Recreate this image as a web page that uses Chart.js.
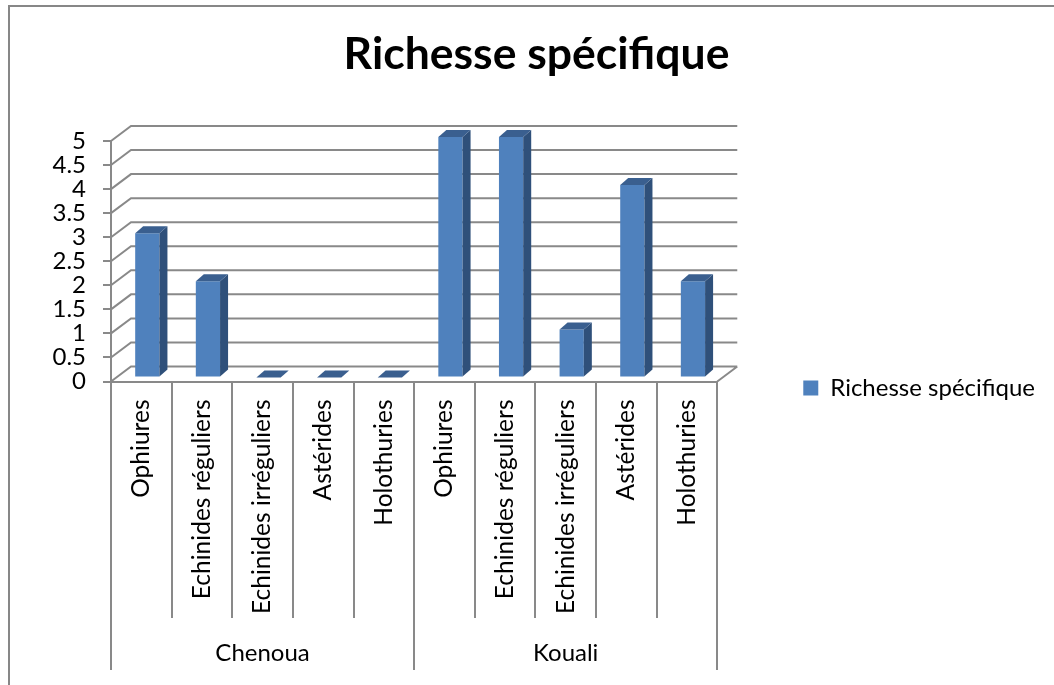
<!DOCTYPE html>
<html>
<head>
<meta charset="utf-8">
<script src="https://cdn.jsdelivr.net/npm/chart.js@4.4.0/dist/chart.umd.min.js"></script>
<style>
  html, body { margin: 0; padding: 0; background: #fff; overflow: hidden; }
  /* the chart frame runs past the bottom and right of the window */
  #wrap { width: 1062px; height: 776px; }
</style>
</head>
<body>
<div id="wrap"><canvas id="richesseChart"></canvas></div>
<script>
// Number of taxa per group, for each site
const sites = ['Chenoua', 'Kouali'];
const taxa = ['Ophiures', 'Echinides réguliers', 'Echinides irréguliers', 'Astérides', 'Holothuries'];
const chenouaValues = [3, 2, 0, 0, 0];
const koualiValues = [5, 5, 1, 4, 2];
const yMax = 5;
const yStep = 0.5;

const labels = sites.flatMap(() => taxa);
const values = chenouaValues.concat(koualiValues);

const FONT = 'Lato';
const LINE = '#898989';
const FRONT = '#4f81bd';
const SIDE = '#2f507a';
const TOP = '#3a5f8f';
const WALL = { x: 20, y: -15 };      // depth of the back wall
const COLUMN = { x: 8, y: -7 };      // thickness of each column
const SHIFT = { x: 6, y: -4 };       // columns sit half way into the box

// Draws the 3D box (back wall, side wall), column faces and the site groups
const box3d = {
  id: 'box3d',
  beforeDraw(chart) {
    const ctx = chart.ctx;
    ctx.save();
    ctx.strokeStyle = '#878787';
    ctx.lineWidth = 2;
    ctx.strokeRect(9, 6, chart.width - 12, chart.height - 9);
    ctx.restore();
  },
  beforeDatasetsDraw(chart) {
    const { ctx, chartArea: a, scales: { y } } = chart;
    ctx.save();
    ctx.strokeStyle = LINE;
    ctx.lineWidth = 2;
    ctx.beginPath();
    y.ticks.forEach(t => {
      const py = y.getPixelForValue(t.value);
      ctx.moveTo(a.left, py);
      ctx.lineTo(a.left + WALL.x, py + WALL.y);
      ctx.lineTo(a.right + WALL.x, py + WALL.y);
    });
    ctx.moveTo(a.right, a.bottom);
    ctx.lineTo(a.right + WALL.x, a.bottom + WALL.y);
    ctx.stroke();
    ctx.restore();

    // columns are drawn shifted back into the box
    ctx.save();
    ctx.translate(SHIFT.x, SHIFT.y);
  },
  afterDatasetsDraw(chart) {
    const ctx = chart.ctx;
    const meta = chart.getDatasetMeta(0);
    meta.data.forEach(bar => {
      const { x, y, base, width } = bar.getProps(['x', 'y', 'base', 'width'], true);
      const l = x - width / 2;
      const r = x + width / 2;
      ctx.fillStyle = SIDE;
      ctx.beginPath();
      ctx.moveTo(r, y);
      ctx.lineTo(r + COLUMN.x, y + COLUMN.y);
      ctx.lineTo(r + COLUMN.x, base + COLUMN.y);
      ctx.lineTo(r, base);
      ctx.closePath();
      ctx.fill();
      ctx.fillStyle = TOP;
      ctx.beginPath();
      ctx.moveTo(l, y);
      ctx.lineTo(r, y);
      ctx.lineTo(r + COLUMN.x, y + COLUMN.y);
      ctx.lineTo(l + COLUMN.x, y + COLUMN.y);
      ctx.closePath();
      ctx.fill();
    });
    ctx.restore();
  },
  afterDraw(chart) {
    const { ctx, chartArea: a, scales: { x } } = chart;
    const half = (x.getPixelForValue(1) - x.getPixelForValue(0)) / 2;
    ctx.save();
    ctx.strokeStyle = LINE;
    ctx.lineWidth = 2;
    ctx.beginPath();
    for (let i = 0; i <= labels.length; i++) {
      const px = Math.round(x.getPixelForValue(i) - half);
      const end = i % taxa.length === 0 ? 670 : 618;
      ctx.moveTo(px, a.bottom);
      ctx.lineTo(px, end);
    }
    ctx.stroke();

    ctx.fillStyle = '#000';
    ctx.font = '24px ' + FONT;
    ctx.textAlign = 'center';
    ctx.textBaseline = 'middle';
    sites.forEach((site, s) => {
      const first = x.getPixelForValue(s * taxa.length) - half;
      const last = x.getPixelForValue((s + 1) * taxa.length - 1) + half;
      ctx.fillText(site, (first + last) / 2, 653);
    });
    ctx.restore();
  }
};

new Chart(document.getElementById('richesseChart'), {
  type: 'bar',
  data: {
    labels: labels,
    datasets: [{
      label: 'Richesse spécifique',
      data: values,
      backgroundColor: FRONT,
      borderWidth: 0,
      categoryPercentage: 1,
      barPercentage: 0.4,
      clip: false
    }]
  },
  options: {
    responsive: true,
    maintainAspectRatio: false,
    animation: false,
    layout: { padding: { left: 28, right: 17, top: 5, bottom: 5 } },
    plugins: {
      title: {
        display: true,
        text: 'Richesse spécifique',
        color: '#000',
        font: { family: FONT, size: 44.5, weight: 'bold' },
        padding: { top: 23, bottom: 59.6 }
      },
      legend: {
        position: 'right',
        align: 'center',
        maxWidth: 400,
        labels: {
          color: '#000',
          font: { family: FONT, size: 24 },
          boxWidth: 15,
          boxHeight: 15,
          padding: 86
        }
      },
      tooltip: { enabled: false }
    },
    scales: {
      x: {
        grid: { display: false, drawTicks: false },
        border: { color: LINE, width: 2 },
        ticks: {
          color: '#000',
          font: { family: FONT, size: 24.5 },
          minRotation: 90,
          maxRotation: 90,
          autoSkip: false,
          padding: 18
        },
        afterFit(scale) { scale.height = 389.5; }
      },
      y: {
        min: 0,
        max: yMax,
        grid: { drawOnChartArea: false, color: LINE, lineWidth: 2, tickLength: 8 },
        border: { color: LINE, width: 2 },
        ticks: {
          stepSize: yStep,
          autoSkip: false,
          color: '#000',
          font: { family: FONT, size: 24 },
          padding: 17,
          callback: v => String(v)
        },
        afterFit(scale) { scale.width = 83; }
      }
    }
  },
  plugins: [box3d]
});
</script>
</body>
</html>
